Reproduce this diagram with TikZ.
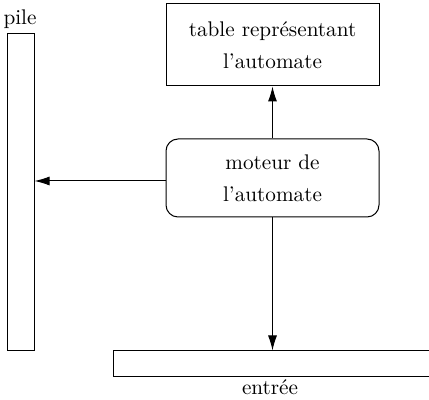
\documentclass[tikz,border=0pt]{standalone}
\usetikzlibrary{arrows.meta}
\begin{document}
\begin{tikzpicture}[x=0.5pt,y=-0.5pt,
  box/.style={draw,line width=0.5pt,inner sep=0pt,align=center,font=\fontsize{10.6}{16}\selectfont},
  arr/.style={draw,line width=0.5pt,-{Latex[length=7.5pt,width=4.5pt]}},
  lbl/.style={inner sep=0pt,font=\fontsize{10.6}{12}\selectfont}]
\useasboundingbox (0,0) rectangle (429,400);
\node[box,minimum width=27*0.5pt,minimum height=317*0.5pt] (pile) at (20.5,192.5) {};
\node[lbl,anchor=base] (pilelbl) at (20,25) {pile};
\node[box,minimum width=213*0.5pt,minimum height=82*0.5pt] (table) at (272.5,45) {table représentant\\l'automate};
\node[box,rounded corners=6pt,minimum width=213*0.5pt,minimum height=78*0.5pt] (moteur) at (272.5,178) {moteur de\\l'automate};
\node[box,minimum width=319*0.5pt,minimum height=26*0.5pt] (entree) at (272.5,364) {};
\node[lbl,anchor=base] (entreelbl) at (270,395) {entrée};
\draw[arr] (moteur.north) -- (table.south);
\draw[arr] (moteur.west |- 0,181) -- (pile.east |- 0,181);
\draw[arr] (moteur.south) -- (entree.north);
\end{tikzpicture}
\end{document}
